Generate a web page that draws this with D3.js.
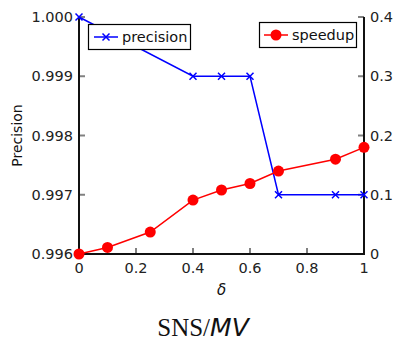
<!DOCTYPE html>
<html>
<head>
<meta charset="utf-8">
<script src="https://cdn.jsdelivr.net/npm/d3@7"></script>
<style>
  body { margin: 0; background: #fff; }
  text { font-family: "DejaVu Sans", sans-serif; }
</style>
</head>
<body>
<div id="chart"></div>
<script>
// precision series
const precX = [0, 0.4, 0.5, 0.6, 0.7, 0.9, 1];
const precY = [1.000, 0.999, 0.999, 0.999, 0.997, 0.997, 0.997];
// speedup series
const speedX = [0, 0.1, 0.25, 0.4, 0.5, 0.6, 0.7, 0.9, 1];
const speedY = [0, 0.011, 0.037, 0.091, 0.108, 0.119, 0.140, 0.160, 0.180];
// ticks
const xTicks = [0, 0.2, 0.4, 0.6, 0.8, 1];
const leftTicks = [0.996, 0.997, 0.998, 0.999, 1.000];
const rightTicks = [0, 0.1, 0.2, 0.3, 0.4];

const W = 395, H = 342;
const margin = { top: 17, left: 79, right: 31, bottom: 88 };
const innerW = W - margin.left - margin.right;
const innerH = H - margin.top - margin.bottom;

const svg = d3.select('#chart').append('svg')
  .attr('width', W)
  .attr('height', H);

const g = svg.append('g')
  .attr('transform', `translate(${margin.left},${margin.top})`);

const x = d3.scaleLinear().domain([0, 1]).range([0, innerW]);
const yL = d3.scaleLinear().domain([0.996, 1.000]).range([innerH, 0]);
const yR = d3.scaleLinear().domain([0, 0.4]).range([innerH, 0]);

// tick marks (gray, inward)
const tickLen = 6;
xTicks.forEach(t => {
  g.append('line')
    .attr('x1', x(t)).attr('x2', x(t))
    .attr('y1', innerH).attr('y2', innerH - tickLen)
    .attr('stroke', '#808080').attr('stroke-width', 2);
  g.append('text')
    .attr('x', x(t)).attr('y', innerH + 19)
    .attr('text-anchor', 'middle')
    .attr('font-size', '14.5px')
    .attr('fill', '#222')
    .text(t === 0 || t === 1 ? String(t) : t.toFixed(1));
});
leftTicks.forEach(t => {
  g.append('line')
    .attr('x1', 0).attr('x2', tickLen)
    .attr('y1', yL(t)).attr('y2', yL(t))
    .attr('stroke', '#808080').attr('stroke-width', 2);
  g.append('text')
    .attr('x', -6).attr('y', yL(t) + 5)
    .attr('text-anchor', 'end')
    .attr('font-size', '14.5px')
    .attr('fill', '#222')
    .text(t.toFixed(3));
});
rightTicks.forEach(t => {
  g.append('line')
    .attr('x1', innerW).attr('x2', innerW - tickLen)
    .attr('y1', yR(t)).attr('y2', yR(t))
    .attr('stroke', '#808080').attr('stroke-width', 2);
  g.append('text')
    .attr('x', innerW + 6).attr('y', yR(t) + 5)
    .attr('text-anchor', 'start')
    .attr('font-size', '14.5px')
    .attr('fill', '#222')
    .text(t === 0 ? '0' : t.toFixed(1));
});

// axis lines
g.append('path')
  .attr('d', `M0,0V${innerH}H${innerW}V0`)
  .attr('fill', 'none')
  .attr('stroke', '#111')
  .attr('stroke-width', 2);

// precision line
const precData = precX.map((d, i) => [d, precY[i]]);
const precLine = d3.line().x(d => x(d[0])).y(d => yL(d[1]));
g.append('path')
  .attr('d', precLine(precData))
  .attr('fill', 'none')
  .attr('stroke', '#0000ff')
  .attr('stroke-width', 1.5);

function cross(sel, cx, cy, s, color) {
  sel.append('path')
    .attr('d', `M${cx - s},${cy - s}L${cx + s},${cy + s}M${cx - s},${cy + s}L${cx + s},${cy - s}`)
    .attr('stroke', color).attr('stroke-width', 1.5).attr('fill', 'none');
}
precData.forEach(d => cross(g, x(d[0]), yL(d[1]), 3.5, '#0000ff'));

// speedup line
const speedData = speedX.map((d, i) => [d, speedY[i]]);
const speedLine = d3.line().x(d => x(d[0])).y(d => yR(d[1]));
g.append('path')
  .attr('d', speedLine(speedData))
  .attr('fill', 'none')
  .attr('stroke', '#ff0000')
  .attr('stroke-width', 1.5);
g.selectAll('.pt')
  .data(speedData)
  .enter()
  .append('circle')
  .attr('cx', d => x(d[0]))
  .attr('cy', d => yR(d[1]))
  .attr('r', 5.5)
  .attr('fill', '#ff0000');

// legend: precision
svg.append('rect')
  .attr('x', 88.5).attr('y', 24.5).attr('width', 102).attr('height', 25)
  .attr('fill', '#fff').attr('stroke', '#000').attr('stroke-width', 1.2);
svg.append('line')
  .attr('x1', 94).attr('x2', 118).attr('y1', 37).attr('y2', 37)
  .attr('stroke', '#0000ff').attr('stroke-width', 1.5);
cross(svg, 106, 37, 3.5, '#0000ff');
svg.append('text')
  .attr('x', 122).attr('y', 42)
  .attr('font-size', '14.5px').attr('fill', '#111')
  .text('precision');

// legend: speedup
svg.append('rect')
  .attr('x', 259.5).attr('y', 22.5).attr('width', 97).attr('height', 25)
  .attr('fill', '#fff').attr('stroke', '#000').attr('stroke-width', 1.2);
svg.append('line')
  .attr('x1', 264).attr('x2', 288).attr('y1', 35).attr('y2', 35)
  .attr('stroke', '#ff0000').attr('stroke-width', 1.5);
svg.append('circle')
  .attr('cx', 276).attr('cy', 35).attr('r', 5.5).attr('fill', '#ff0000');
svg.append('text')
  .attr('x', 292).attr('y', 40)
  .attr('font-size', '14.5px').attr('fill', '#111')
  .text('speedup');

// axis titles
svg.append('text')
  .attr('transform', `translate(22,${margin.top + innerH / 2}) rotate(-90)`)
  .attr('text-anchor', 'middle')
  .attr('font-size', '14px')
  .attr('fill', '#111')
  .text('Precision');

svg.append('text')
  .attr('x', margin.left + innerW / 2).attr('y', 295)
  .attr('text-anchor', 'middle')
  .attr('font-family', '"DejaVu Serif", serif')
  .attr('font-style', 'italic')
  .attr('font-size', '15px')
  .attr('fill', '#111')
  .text('δ');

// caption
const cap = svg.append('text')
  .attr('x', 203).attr('y', 336)
  .attr('text-anchor', 'middle')
  .attr('font-size', '25px')
  .attr('fill', '#111');
cap.append('tspan')
  .attr('font-family', '"Liberation Serif", serif')
  .text('SNS/');
cap.append('tspan')
  .attr('font-family', '"DejaVu Sans", sans-serif')
  .attr('font-style', 'italic')
  .text('MV');
</script>
</body>
</html>
